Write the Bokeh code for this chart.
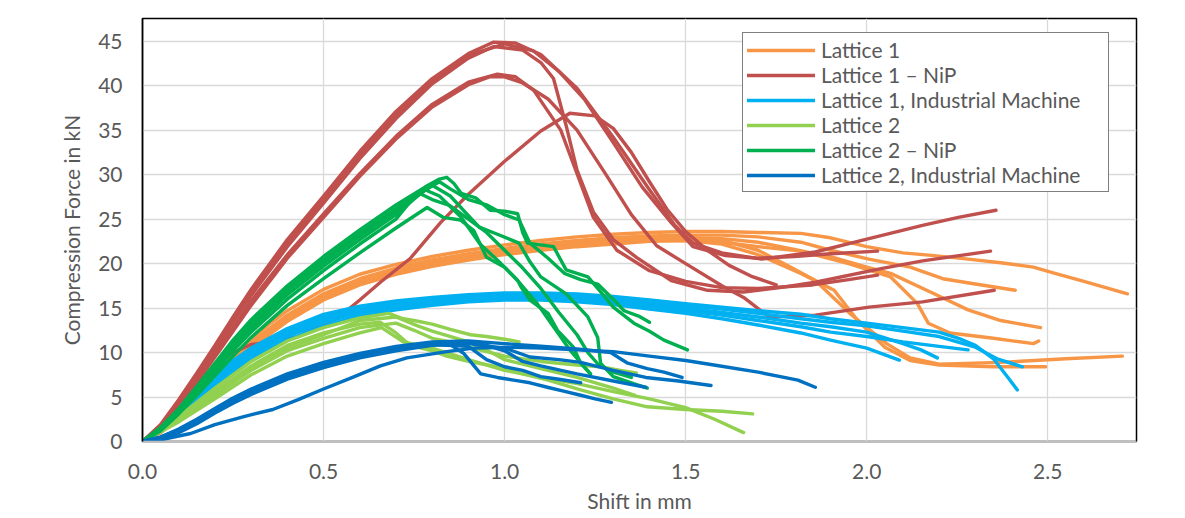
from bokeh.plotting import figure
from bokeh.models import Range1d, FixedTicker, Legend, LegendItem, NumeralTickFormatter, BoxAnnotation
from bokeh.embed import file_html
from bokeh.resources import INLINE

# ---------------- data ----------------
series_names = ["Lattice 1", "Lattice 1 \u2013 NiP", "Lattice 1, Industrial Machine",
                "Lattice 2", "Lattice 2 \u2013 NiP", "Lattice 2, Industrial Machine"]
series_colors = ["#F79646", "#C0504D", "#00B0F0", "#92D050", "#00B050", "#0070C0"]

x_ticks = [0.0, 0.5, 1.0, 1.5, 2.0, 2.5]
y_ticks = [0, 5, 10, 15, 20, 25, 30, 35, 40, 45]

# each curve: list of (shift mm, force kN)
lattice1_curves = [
    [(0,0),(0.05,1.3),(0.1,3.2),(0.15,5.3),(0.2,7.4),(0.25,9.5),(0.3,11.4),(0.35,13.2),(0.4,14.7),(0.5,17.1),(0.6,18.8),(0.7,19.9),(0.8,20.8),(0.9,21.5),(1.0,22.1),(1.1,22.6),(1.2,23.0),(1.3,23.3),(1.4,23.5),(1.5,23.6),(1.6,23.6),(1.7,23.5),(1.818,23.4),(1.9,22.9),(2.0,21.9),(2.1,21.2),(2.186,20.9),(2.28,20.5),(2.37,20.1),(2.46,19.6),(2.52,18.9),(2.6,18.0),(2.66,17.3),(2.72,16.6)],
    [(0,0),(0.05,1.2),(0.1,3.0),(0.15,5.0),(0.2,7.1),(0.25,9.1),(0.3,11.0),(0.35,12.7),(0.4,14.2),(0.5,16.6),(0.6,18.3),(0.7,19.5),(0.8,20.4),(0.9,21.1),(1.0,21.7),(1.1,22.2),(1.2,22.6),(1.3,22.9),(1.4,23.1),(1.5,23.2),(1.6,23.2),(1.7,23.0),(1.818,22.4),(1.9,21.5),(2.006,20.5),(2.12,19.6),(2.21,18.3),(2.3,17.7),(2.41,17.0)],
    [(0,0),(0.05,1.1),(0.1,2.8),(0.15,4.8),(0.2,6.8),(0.25,8.8),(0.3,10.6),(0.35,12.3),(0.4,13.8),(0.5,16.2),(0.6,17.9),(0.7,19.1),(0.8,20.0),(0.9,20.7),(1.0,21.3),(1.1,21.8),(1.2,22.2),(1.3,22.5),(1.4,22.8),(1.5,22.9),(1.6,22.8),(1.7,22.4),(1.8,21.6),(1.907,20.7),(2.0,19.6),(2.066,18.9),(2.186,16.6),(2.28,14.8),(2.37,13.6),(2.48,12.8)],
    [(0,0),(0.05,1.0),(0.1,2.6),(0.15,4.5),(0.2,6.5),(0.25,8.5),(0.3,10.3),(0.35,12.0),(0.4,13.5),(0.5,15.9),(0.6,17.6),(0.7,18.8),(0.8,19.7),(0.9,20.4),(1.0,21.0),(1.1,21.5),(1.2,21.9),(1.3,22.2),(1.4,22.5),(1.5,22.6),(1.6,22.4),(1.7,21.9),(1.818,21.4),(1.95,20.0),(2.066,18.5),(2.14,15.5),(2.17,13.3),(2.23,12.2),(2.35,11.6),(2.46,11.0),(2.475,11.3)],
    [(0,0),(0.05,1.1),(0.1,2.9),(0.15,4.9),(0.2,7.0),(0.25,9.0),(0.3,10.8),(0.35,12.5),(0.4,14.0),(0.5,16.4),(0.6,18.1),(0.7,19.3),(0.8,20.2),(0.9,20.9),(1.0,21.5),(1.1,22.0),(1.2,22.4),(1.3,22.7),(1.4,22.9),(1.5,22.9),(1.6,22.6),(1.7,21.5),(1.78,19.8),(1.858,18.1),(1.956,14.3),(2.055,11.0),(2.12,9.4),(2.2,8.7),(2.37,8.9),(2.55,9.3),(2.706,9.6)],
    [(0,0),(0.05,1.0),(0.1,2.7),(0.15,4.6),(0.2,6.6),(0.25,8.6),(0.3,10.5),(0.35,12.1),(0.4,13.6),(0.5,16.0),(0.6,17.7),(0.7,18.9),(0.8,19.9),(0.9,20.6),(1.0,21.2),(1.1,21.7),(1.2,22.1),(1.3,22.4),(1.4,22.6),(1.5,22.6),(1.6,22.2),(1.7,21.0),(1.818,18.9),(1.91,17.0),(1.975,13.6),(2.05,10.6),(2.12,9.1),(2.2,8.6),(2.35,8.4),(2.494,8.4)],
]

lattice1_nip_curves = [
    [(0,0),(0.05,1.9),(0.1,4.7),(0.15,7.7),(0.2,10.8),(0.25,14.0),(0.3,17.1),(0.4,22.7),(0.5,27.6),(0.6,32.6),(0.7,37.1),(0.8,40.8),(0.9,43.6),(0.97,44.9),(1.03,44.8),(1.1,43.5),(1.2,39.7),(1.3,34.2),(1.4,28.3),(1.47,24.3),(1.52,22.3),(1.6,21.2),(1.71,20.5),(1.858,21.3),(2.006,22.8),(2.154,24.3),(2.253,25.2),(2.357,26.0)],
    [(0,0),(0.05,1.8),(0.1,4.5),(0.15,7.5),(0.2,10.6),(0.25,13.7),(0.3,16.8),(0.4,22.3),(0.5,27.2),(0.6,32.2),(0.7,36.7),(0.8,40.5),(0.9,43.4),(1.0,44.7),(1.08,43.9),(1.15,41.6),(1.22,38.5),(1.3,33.6),(1.38,28.6),(1.46,24.6),(1.52,21.9),(1.61,20.9),(1.7,20.6),(1.8,20.8),(1.9,21.1),(2.03,21.4)],
    [(0,0),(0.05,1.7),(0.1,4.4),(0.15,7.3),(0.2,10.3),(0.25,13.4),(0.3,16.4),(0.4,21.9),(0.5,26.8),(0.6,31.8),(0.7,36.3),(0.8,40.2),(0.9,43.1),(0.97,44.4),(1.05,44.0),(1.1,42.6),(1.135,40.8),(1.17,35.5),(1.2,30.5),(1.245,25.8),(1.3,22.7),(1.364,20.7),(1.46,18.1),(1.56,17.0),(1.66,16.8),(1.76,17.3),(1.858,17.9),(2.036,19.4),(2.154,20.3),(2.342,21.4)],
    [(0,0),(0.05,1.6),(0.1,4.1),(0.15,6.9),(0.2,9.8),(0.25,12.8),(0.3,15.8),(0.4,21.0),(0.5,25.6),(0.6,30.1),(0.7,34.3),(0.8,37.9),(0.9,40.4),(0.98,41.3),(1.03,41.0),(1.08,39.5),(1.155,35.0),(1.2,30.1),(1.245,25.2),(1.31,21.5),(1.4,19.2),(1.5,18.0),(1.6,17.3),(1.7,17.2),(1.85,17.6),(1.95,18.2),(2.03,18.7)],
    [(0,0),(0.05,1.5),(0.1,3.9),(0.15,6.6),(0.2,9.5),(0.25,12.4),(0.3,15.3),(0.4,20.6),(0.5,25.2),(0.6,29.8),(0.7,34.0),(0.8,37.6),(0.9,40.1),(0.96,41.0),(1.0,41.0),(1.05,40.3),(1.12,38.5),(1.2,35.0),(1.28,30.0),(1.35,25.5),(1.42,22.0),(1.5,20.0),(1.6,17.5),(1.66,16.2),(1.73,14.0),(1.858,14.2),(2.006,15.1),(2.154,15.7),(2.352,17.0)],
    [(0,0),(0.05,1.6),(0.1,3.9),(0.15,6.3),(0.2,8.4),(0.25,10.0),(0.3,10.9),(0.36,11.2),(0.43,11.8),(0.48,12.9),(0.54,13.9),(0.6,15.9),(0.657,17.9),(0.74,20.6),(0.823,24.6),(0.9,27.8),(1.0,31.5),(1.1,34.9),(1.18,36.9),(1.25,36.6),(1.3,35.2),(1.35,32.5),(1.4,29.2),(1.45,26.0),(1.5,23.6),(1.56,21.5),(1.62,19.8),(1.68,18.6),(1.75,17.6)],
]

lattice1_im_curves = [
    [(0,0),(0.05,1.5),(0.1,3.6),(0.15,5.6),(0.2,7.5),(0.25,9.1),(0.3,10.5),(0.4,12.7),(0.5,14.3),(0.6,15.2),(0.7,15.8),(0.8,16.2),(0.9,16.5),(1.0,16.7),(1.1,16.7),(1.2,16.6),(1.3,16.3),(1.4,15.9),(1.5,15.5),(1.6,15.1),(1.7,14.7),(1.818,14.3),(1.9,13.8),(2.0,13.3),(2.1,12.8),(2.2,12.3),(2.26,11.5),(2.3,10.8),(2.35,9.3),(2.39,7.2),(2.416,5.8)],
    [(0,0),(0.05,1.4),(0.1,3.4),(0.15,5.4),(0.2,7.2),(0.25,8.8),(0.3,10.2),(0.4,12.4),(0.5,14.0),(0.6,15.0),(0.7,15.6),(0.8,16.0),(0.9,16.3),(1.0,16.5),(1.1,16.5),(1.2,16.4),(1.3,16.1),(1.4,15.7),(1.5,15.3),(1.6,14.9),(1.7,14.4),(1.818,13.8),(1.9,13.4),(2.0,13.0),(2.1,12.4),(2.2,11.8),(2.3,10.6),(2.36,9.3),(2.43,8.4)],
    [(0,0),(0.05,1.3),(0.1,3.2),(0.15,5.1),(0.2,6.9),(0.25,8.5),(0.3,9.9),(0.4,12.1),(0.5,13.7),(0.6,14.7),(0.7,15.3),(0.8,15.8),(0.9,16.1),(1.0,16.3),(1.1,16.3),(1.2,16.2),(1.3,15.9),(1.4,15.5),(1.5,15.0),(1.6,14.5),(1.7,14.0),(1.818,13.3),(1.9,12.9),(2.0,12.3),(2.1,11.0),(2.15,10.3),(2.195,9.4)],
    [(0,0),(0.05,1.1),(0.1,2.8),(0.15,4.6),(0.2,6.3),(0.25,7.9),(0.3,9.3),(0.4,11.4),(0.5,13.0),(0.6,14.1),(0.7,14.8),(0.8,15.3),(0.9,15.7),(1.0,15.9),(1.1,15.9),(1.2,15.7),(1.3,15.4),(1.4,14.9),(1.5,14.4),(1.6,13.8),(1.7,13.1),(1.818,12.2),(1.9,11.4),(2.0,10.5),(2.09,9.15)],
    [(0,0),(0.05,1.2),(0.1,3.0),(0.15,4.9),(0.2,6.6),(0.25,8.2),(0.3,9.6),(0.4,11.8),(0.5,13.4),(0.6,14.4),(0.7,15.1),(0.8,15.6),(0.9,15.9),(1.0,16.1),(1.1,16.1),(1.2,16.0),(1.3,15.7),(1.4,15.2),(1.5,14.7),(1.6,14.2),(1.7,13.6),(1.818,12.9),(1.9,12.3),(2.0,11.8),(2.1,11.2),(2.2,10.7),(2.28,10.3)],
]

lattice2_curves = [
    [(0,0),(0.05,1.2),(0.1,2.8),(0.2,6.0),(0.3,9.0),(0.4,11.3),(0.5,12.8),(0.6,13.9),(0.68,14.4),(0.72,13.8),(0.75,13.6),(0.8,13.2),(0.85,12.6),(0.906,12.0),(0.95,11.8),(1.0,11.5),(1.04,11.2)],
    [(0,0),(0.1,2.6),(0.2,5.6),(0.3,8.5),(0.4,10.8),(0.5,12.2),(0.6,13.2),(0.657,13.4),(0.7,12.2),(0.74,10.8),(0.8,10.2),(0.84,9.6),(0.9,9.0),(0.98,8.4),(1.05,7.6),(1.12,6.9),(1.21,5.8),(1.3,4.8),(1.394,3.9),(1.5,3.6),(1.6,3.4),(1.685,3.1)],
    [(0,0),(0.1,2.4),(0.2,5.2),(0.3,8.0),(0.4,10.2),(0.5,11.6),(0.6,12.8),(0.7,13.3),(0.75,12.5),(0.8,11.6),(0.85,11.2),(0.9,10.6),(1.0,9.6),(1.1,9.0),(1.2,8.6),(1.265,8.4),(1.32,8.0),(1.364,7.7)],
    [(0,0),(0.1,2.2),(0.2,4.8),(0.3,7.5),(0.4,9.6),(0.5,11.0),(0.6,12.2),(0.66,12.8),(0.72,11.2),(0.8,10.5),(0.9,9.2),(1.0,8.0),(1.1,7.2),(1.2,6.5),(1.3,5.6),(1.4,4.8),(1.5,3.8),(1.58,2.5),(1.66,1.0)],
    [(0,0),(0.1,2.5),(0.2,5.4),(0.3,8.3),(0.4,10.5),(0.5,12.0),(0.6,13.6),(0.7,14.0),(0.76,13.0),(0.8,12.4),(0.9,11.2),(0.95,10.3),(1.0,9.2),(1.1,8.2),(1.2,7.2),(1.3,6.0),(1.36,5.2)],
]

lattice2_nip_curves = [
    [(0,0),(0.05,1.6),(0.1,3.7),(0.15,6.2),(0.2,8.8),(0.25,11.4),(0.3,13.7),(0.4,17.5),(0.5,20.8),(0.6,23.8),(0.7,26.6),(0.78,28.6),(0.82,29.5),(0.84,29.7),(0.86,29.0),(0.88,27.9),(0.92,27.4),(0.96,26.0),(1.0,25.9),(1.036,25.6),(1.05,23.5),(1.063,22.3),(1.1,22.1),(1.135,21.9),(1.17,19.3),(1.2,18.9),(1.23,18.5),(1.27,16.6),(1.3,15.1),(1.357,13.3),(1.4,12.4),(1.44,11.4),(1.505,10.3)],
    [(0,0),(0.05,1.5),(0.1,3.6),(0.15,6.0),(0.2,8.6),(0.25,11.1),(0.3,13.4),(0.4,17.2),(0.5,20.4),(0.6,23.4),(0.7,26.2),(0.76,27.8),(0.82,29.2),(0.85,28.4),(0.9,27.2),(0.95,26.6),(1.0,25.5),(1.04,24.9),(1.07,22.3),(1.12,20.6),(1.165,18.9),(1.21,18.2),(1.257,17.7),(1.3,16.0),(1.33,14.7),(1.37,14.1),(1.40,13.4)],
    [(0,0),(0.05,1.5),(0.1,3.5),(0.15,5.9),(0.2,8.4),(0.25,10.9),(0.3,13.1),(0.4,16.9),(0.5,20.1),(0.6,23.1),(0.7,25.9),(0.8,28.8),(0.85,27.6),(0.9,25.4),(0.93,24.1),(0.98,23.3),(1.04,22.3),(1.07,20.2),(1.10,18.5),(1.17,16.6),(1.23,14.0),(1.257,11.7),(1.265,8.8),(1.30,7.3),(1.35,6.6),(1.394,6.0)],
    [(0,0),(0.05,1.4),(0.1,3.4),(0.15,5.7),(0.2,8.1),(0.25,10.5),(0.3,12.7),(0.4,16.5),(0.5,19.7),(0.6,22.7),(0.7,25.5),(0.78,28.3),(0.82,27.6),(0.88,25.2),(0.93,22.3),(0.99,20.0),(1.036,18.1),(1.09,15.5),(1.135,12.9),(1.18,10.3),(1.22,8.4),(1.237,7.6)],
    [(0,0),(0.05,1.3),(0.1,3.3),(0.15,5.5),(0.2,7.8),(0.25,10.2),(0.3,12.3),(0.4,16.0),(0.5,19.2),(0.6,22.2),(0.7,25.0),(0.76,28.0),(0.8,27.2),(0.85,26.5),(0.9,25.0),(0.95,23.5),(1.0,21.5),(1.05,19.5),(1.1,17.2),(1.15,14.5),(1.2,12.0),(1.23,10.0),(1.26,8.6),(1.3,7.8),(1.35,7.2)],
    [(0,0),(0.05,1.2),(0.1,3.1),(0.15,5.2),(0.2,7.4),(0.25,9.6),(0.3,11.7),(0.4,15.3),(0.5,18.3),(0.6,21.2),(0.7,24.0),(0.786,26.3),(0.83,25.2),(0.878,24.9),(0.915,23.7),(0.95,20.7),(1.0,19.6),(1.036,18.1),(1.045,17.4),(1.07,15.9),(1.12,14.4),(1.146,12.5),(1.19,10.6),(1.21,8.8),(1.237,7.6)],
]

lattice2_im_curves = [
    [(0,0),(0.05,0.2),(0.133,0.9),(0.2,1.9),(0.28,2.8),(0.36,3.6),(0.43,4.7),(0.5,5.9),(0.58,7.2),(0.657,8.5),(0.73,9.4),(0.84,10.1),(0.915,10.5),(1.025,10.6),(1.1,10.5),(1.2,10.3),(1.3,10.1),(1.4,9.6),(1.5,9.1),(1.578,8.6),(1.7,7.8),(1.81,6.9),(1.858,6.1)],
    [(0,0),(0.05,0.5),(0.1,1.4),(0.15,2.5),(0.2,3.7),(0.25,4.9),(0.3,5.9),(0.4,7.6),(0.5,8.9),(0.6,9.9),(0.7,10.7),(0.8,11.2),(0.9,11.3),(1.0,11.0),(1.1,10.7),(1.2,10.4),(1.293,10.0),(1.32,9.3),(1.34,8.8),(1.394,8.2),(1.44,7.8),(1.49,7.2)],
    [(0,0),(0.05,0.4),(0.1,1.2),(0.15,2.3),(0.2,3.5),(0.25,4.6),(0.3,5.6),(0.4,7.3),(0.5,8.6),(0.6,9.7),(0.7,10.5),(0.8,11.0),(0.9,11.0),(1.0,10.5),(1.07,9.5),(1.15,9.2),(1.21,8.9),(1.3,8.0),(1.39,7.2),(1.48,6.8),(1.57,6.3)],
    [(0,0),(0.05,0.3),(0.1,1.0),(0.15,2.0),(0.2,3.2),(0.25,4.3),(0.3,5.3),(0.4,7.0),(0.5,8.3),(0.6,9.4),(0.7,10.2),(0.8,10.8),(0.85,10.9),(0.887,9.9),(0.934,7.6),(0.98,7.2),(1.025,6.9),(1.07,6.6),(1.118,6.1),(1.16,5.7),(1.21,5.2),(1.25,4.8),(1.295,4.4)],
    [(0,0),(0.05,0.4),(0.1,1.1),(0.15,2.1),(0.2,3.3),(0.25,4.4),(0.3,5.4),(0.4,7.1),(0.5,8.5),(0.6,9.6),(0.7,10.4),(0.8,10.9),(0.9,10.7),(0.95,9.2),(1.0,8.4),(1.05,8.0),(1.1,7.3),(1.15,7.0),(1.21,6.6)],
    [(0,0),(0.05,0.5),(0.1,1.3),(0.15,2.4),(0.2,3.6),(0.25,4.7),(0.3,5.8),(0.4,7.5),(0.5,8.8),(0.6,9.8),(0.7,10.6),(0.8,11.1),(0.9,11.2),(0.95,10.8),(1.0,10.2),(1.05,9.0),(1.1,8.5),(1.2,7.6),(1.3,6.8),(1.39,6.1)],
]

all_series = [lattice1_curves, lattice1_nip_curves, lattice1_im_curves,
              lattice2_curves, lattice2_nip_curves, lattice2_im_curves]

# ---------------- figure ----------------
FONT = "Lato"
TXT = "#595959"

p = figure(width=1183, height=516, output_backend="svg", toolbar_location=None,
           x_range=Range1d(0, 2.745), y_range=Range1d(0, 47.55),
           min_border_left=142, min_border_right=47, min_border_top=18, min_border_bottom=75,
           background_fill_color="white", border_fill_color="white")

p.outline_line_color = "black"
p.outline_line_width = 1.5

p.xgrid.ticker = FixedTicker(ticks=x_ticks)
p.ygrid.ticker = FixedTicker(ticks=y_ticks)
p.xgrid.grid_line_color = "#D9D9D9"
p.ygrid.grid_line_color = "#D9D9D9"
p.xgrid.grid_line_width = 1.3
p.ygrid.grid_line_width = 1.3

p.xaxis.ticker = FixedTicker(ticks=x_ticks)
p.yaxis.ticker = FixedTicker(ticks=y_ticks)
p.xaxis.formatter = NumeralTickFormatter(format="0.0")
for ax in (p.xaxis, p.yaxis):
    ax.major_tick_line_color = None
    ax.minor_tick_line_color = None
    ax.major_tick_out = 0
    ax.major_tick_in = 0
    ax.major_label_text_font = FONT
    ax.major_label_text_font_size = "21px"
    ax.major_label_text_color = TXT
    ax.axis_label_text_font = FONT
    ax.axis_label_text_font_size = "21px"
    ax.axis_label_text_color = TXT
    ax.axis_label_text_font_style = "normal"
p.xaxis.axis_label = "Shift in mm"
p.yaxis.axis_label = "Compression Force in kN"
p.xaxis.axis_line_color = "#BFBFBF"
p.xaxis.axis_line_width = 1.5
p.yaxis.axis_line_color = "black"
p.yaxis.axis_line_width = 1.5
p.xaxis.major_label_standoff = 22
p.xaxis.axis_label_standoff = 6
p.yaxis.major_label_standoff = 20
p.yaxis.axis_label_standoff = 11

items = []
for name, color, curves in zip(series_names, series_colors, all_series):
    xs = [[pt[0] for pt in c] for c in curves]
    ys = [[pt[1] for pt in c] for c in curves]
    r = p.multi_line(xs=xs, ys=ys, line_color=color, line_width=3.4,
                     line_join="round", line_cap="round")
    items.append(LegendItem(label=name, renderers=[r]))

legend = Legend(items=items, location=(600, 249),
                label_text_font=FONT, label_text_font_size="21px", label_text_color=TXT,
                glyph_width=68, glyph_height=20, label_height=20, label_width=283,
                label_standoff=6, spacing=0, padding=4, margin=0,
                border_line_color="black", border_line_width=1.5,
                background_fill_color="white", background_fill_alpha=1.0)
p.add_layout(legend, "center")

# light chart-area border
p.add_layout(BoxAnnotation(left=2, right=1181, top=2, bottom=514,
                           left_units="canvas", right_units="canvas",
                           top_units="canvas", bottom_units="canvas",
                           fill_alpha=0, line_color="#D9D9D9", line_width=1.3,
                           level="underlay"))

open("out.html", "w").write(file_html(p, INLINE))
